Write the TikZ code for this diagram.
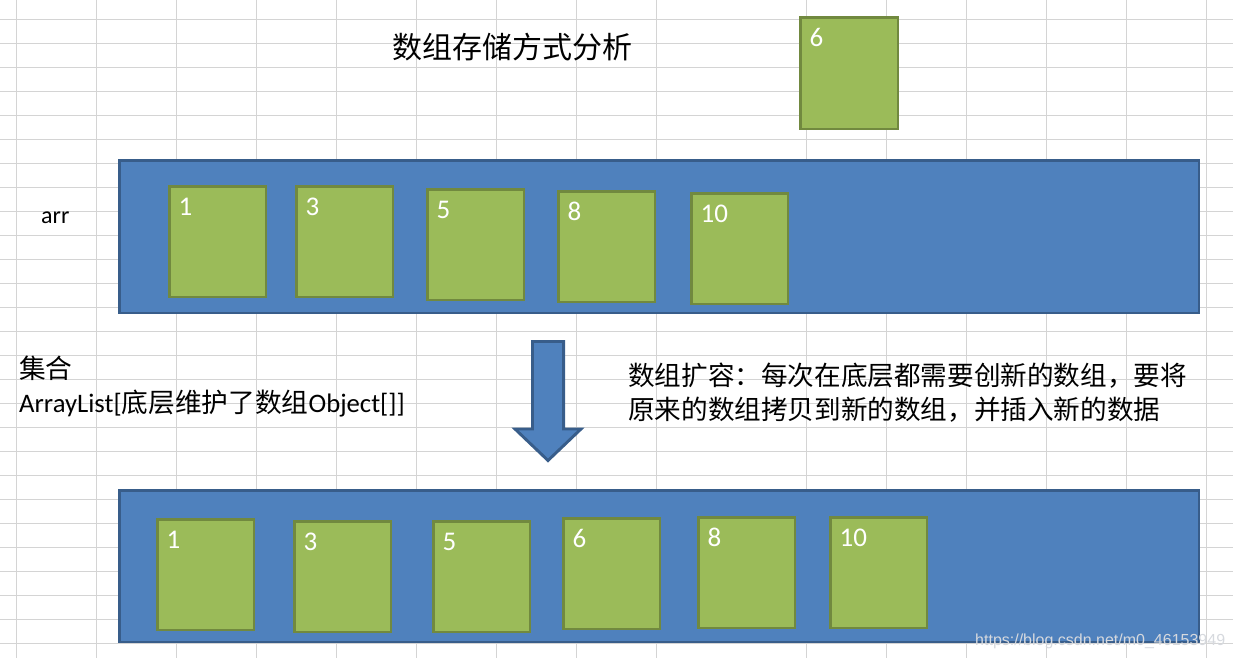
\documentclass[tikz,border=0pt]{standalone}
\usepackage{fontspec}
\setmainfont{Carlito}
\newfontfamily\cjk{Noto Sans CJK SC}
\newfontfamily\wmfont{Liberation Sans}
\usetikzlibrary{calc}
\definecolor{gridc}{HTML}{D4D4D4}
\definecolor{bluefill}{HTML}{4F81BD}
\definecolor{blueline}{HTML}{385D8A}
\definecolor{greenfill}{HTML}{9BBB59}
\definecolor{greenline}{HTML}{71893F}
\definecolor{wmc}{HTML}{D6D9DE}
\begin{document}
\begin{tikzpicture}[x=1pt,y=-1pt,
  gridline/.style={draw=gridc, line width=1.2pt},
  cell/.style={draw=greenline, fill=greenfill, line width=2.9pt, minimum width=96.1pt, minimum height=110.1pt, anchor=north west, inner sep=0pt},
  num/.style={anchor=base west, inner sep=0pt, text=white, font=\fontsize{27}{32}\selectfont},
  arrbox/.style={draw=blueline, fill=bluefill, line width=2.9pt, anchor=north west, inner sep=0pt, minimum width=1079.1pt},
  txt/.style={anchor=base west, inner sep=0pt, text=black},
  bigarrow/.style={draw=blueline, fill=bluefill, line width=2.9pt, line join=miter},
]
\useasboundingbox (0,0) rectangle (1233,658);
% spreadsheet grid
\foreach \x in {16.5,96.5,176.5,256.5,336.5,416.5,496.5,576.5,656.5,806.5,886.5,966.5,1046.5,1126.5,1206.5}
  \draw[gridline] (\x,0) -- (\x,658);
\foreach \k in {0,...,26}{
  \pgfmathsetmacro\yy{19.3+24*\k}
  \draw[gridline] (0,\yy) -- (1233,\yy);
}
% title
\node[txt] (title) at (392,59) {\cjk\fontsize{30}{36}\selectfont 数组存储方式分析};
% the extra element 6
\node[cell, minimum width=97.1pt, minimum height=111.1pt] (x6) at (799.45,16.45) {};
\node[num] (x6n) at ($(x6.north west)+(10,30.3)$) {6};
% top array
\node[arrbox, minimum height=152.1pt] (top) at (118.45,159.45) {};
\node[txt] (arr) at (41,223.5) {\fontsize{24}{29}\selectfont arr};
\node[cell] (t1) at (168.45,185.45) {};
\node[cell] (t3) at (295.45,185.45) {};
\node[cell] (t5) at (426.45,188.45) {};
\node[cell] (t8) at (557.45,190.45) {};
\node[cell] (t10) at (690.45,192.45) {};
\foreach \n/\v in {t1/1,t3/3,t5/5,t8/8,t10/10}
  \node[num] (\n n) at ($(\n.north west)+(10,30.3)$) {\v};
% arrow
\draw[bigarrow] (532.45,341.45) -- (563.55,341.45) -- (563.55,429) -- (581,429) -- (548,460.5) -- (515,429) -- (532.45,429) -- cycle;
% left texts
\node[txt] (jihe) at (19,378) {\cjk\fontsize{26.7}{32}\selectfont 集合};
\node[txt] (alist) at (19,412) {\fontsize{26.7}{32}\selectfont ArrayList[{\cjk 底层维护了数组}Object[]]};
% right texts
\node[txt] (r1) at (628,385) {\cjk\fontsize{26.6}{32}\selectfont 数组扩容：每次在底层都需要创新的数组，要将};
\node[txt] (r2) at (628,419) {\cjk\fontsize{26.6}{32}\selectfont 原来的数组拷贝到新的数组，并插入新的数据};
% bottom array
\node[arrbox, minimum height=151.1pt] (bot) at (118.45,489.45) {};
\node[cell] (b1) at (156.45,518.45) {};
\node[cell] (b3) at (293.45,520.45) {};
\node[cell] (b5) at (432.45,520.45) {};
\node[cell] (b6) at (562.45,517.45) {};
\node[cell] (b8) at (697.45,516.45) {};
\node[cell] (b10) at (829.45,516.45) {};
\foreach \n/\v in {b1/1,b3/3,b5/5,b6/6,b8/8,b10/10}
  \node[num] (\n n) at ($(\n.north west)+(10,30.3)$) {\v};
% watermark
\node[txt, text=wmc] (wm) at (975,645) {\wmfont\fontsize{16}{19}\selectfont https://blog.csdn.net/m0\_46153949};
\end{tikzpicture}
\end{document}
